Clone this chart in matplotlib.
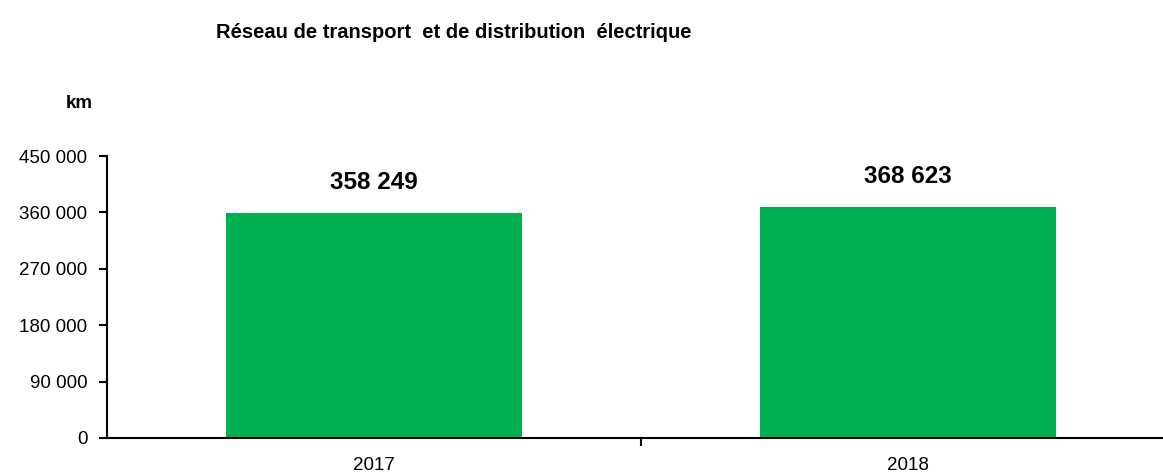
import matplotlib.pyplot as plt
from matplotlib.ticker import FuncFormatter

years = ["2017", "2018"]
km = [358249, 368623]
yticks = [0, 90000, 180000, 270000, 360000, 450000]

plt.rcParams['font.family'] = ['Liberation Sans', 'DejaVu Sans']

fig = plt.figure(figsize=(11.63, 4.74), dpi=100)
ax = fig.add_axes([107 / 1163, 36 / 474, 1068 / 1163, 282 / 474])

x = range(len(years))
ax.bar(x, km, width=0.555, color="#00B050")

def fmt(v):
    return f"{int(v):,}".replace(",", " ")

# value labels above the bars
for i, v in zip(x, km):
    ax.text(i, v + 31000, fmt(v), ha="center", va="bottom",
            fontsize=17.5, fontweight="bold")

ax.set_xlim(-0.5, len(years) - 0.5)
ax.set_ylim(0, 450000)
ax.set_yticks(yticks)
ax.yaxis.set_major_formatter(FuncFormatter(lambda v, p: fmt(v)))
ax.set_xticks(list(x))
ax.set_xticklabels(years)
ax.set_xticks([0.5], minor=True)
ax.tick_params(axis="x", which="major", length=0, pad=14, labelsize=13.5)
ax.tick_params(axis="x", which="minor", length=6, width=1.5, direction="out")
ax.tick_params(axis="y", length=6, width=1.5, labelsize=13.5, pad=8)

for s in ["top", "right"]:
    ax.spines[s].set_visible(False)
for s in ["left", "bottom"]:
    ax.spines[s].set_linewidth(1.5)

fig.text(454 / 1163, 1 - 32 / 474, "Réseau de transport  et de distribution  électrique",
         ha="center", va="center", fontsize=14.5, fontweight="bold")
fig.text(79 / 1163, 1 - 103 / 474, "km", ha="center", va="center",
         fontsize=13.5, fontweight="bold")

fig.savefig("out.png", dpi=100)
